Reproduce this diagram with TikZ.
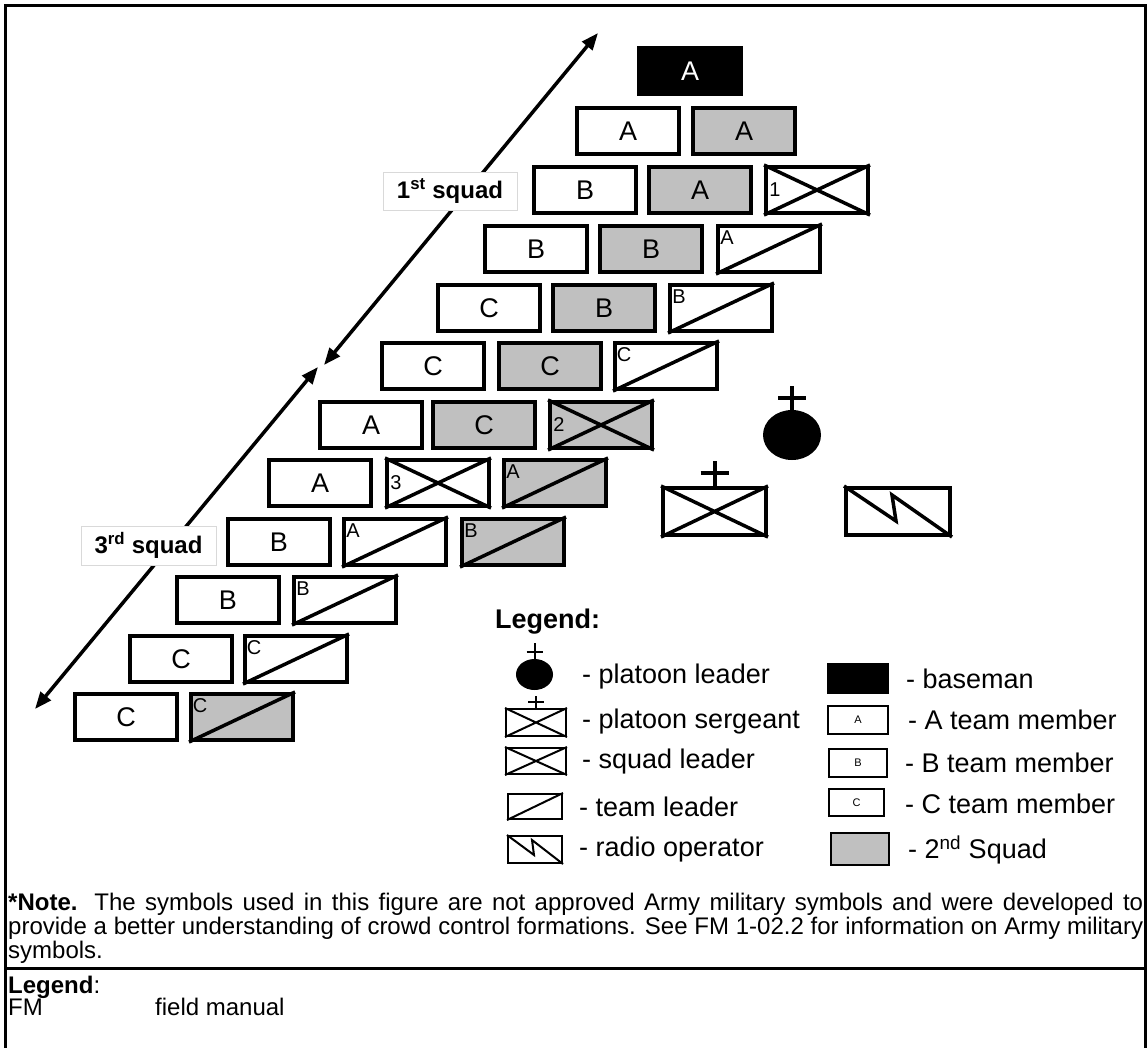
\documentclass[tikz,border=0pt]{standalone}
\usepackage{fontspec}
\setmainfont{Liberation Sans}
\usetikzlibrary{arrows.meta,shapes.geometric}
\definecolor{sqgray}{RGB}{192,192,192}

% one soldier position in the formation (outer top-left corner given)
\newcommand{\member}[5]{%
  \node[unitbox,#4] (#1) at (#2+53,#3+25) {#5};}
% squad leader: box with an X and the squad number
\newcommand{\sqlead}[5]{%
  \node[unitbox,fill=#4] (#1) at (#2+53,#3+25) {};
  \draw[diag] (#1.south west) -- (#1.north east) (#1.north west) -- (#1.south east);
  \node[tag] (#1-n) at ([shift={(11,25)}]#1.north west) {#5};}
% team leader: box with one diagonal and the team letter
\newcommand{\tmlead}[5]{%
  \node[unitbox,fill=#4] (#1) at (#2+53,#3+25) {};
  \draw[diag] (#1.south west) -- (#1.north east);
  \node[tag] (#1-n) at ([shift={(11,14)}]#1.north west) {#5};}

\tikzset{
  unitbox/.style={draw, line width=4pt, minimum width=102pt, minimum height=46pt,
    inner sep=0pt, fill=white, font=\fontsize{27}{30}\selectfont},
  diag/.style={line width=3.5pt},
  tag/.style={inner sep=0pt, font=\fontsize{20}{22}\selectfont},
  squadarrow/.style={line width=3.5pt,
    {Triangle[length=17pt,width=13pt]}-{Triangle[length=17pt,width=13pt]}},
  squadlabel/.style={draw=black!15, line width=0.8pt, fill=white, inner sep=0pt,
    font=\bfseries\fontsize{24}{26}\selectfont},
  legsym/.style={draw, line width=2pt, inner sep=0pt, fill=white},
  legtext/.style={anchor=west, inner sep=0pt, font=\fontsize{27}{30}\selectfont},
  smalltag/.style={font=\fontsize{11}{12}\selectfont},
  bodytext/.style={inner sep=0pt, font=\fontsize{24}{24}\selectfont},
}

\begin{document}
\begin{tikzpicture}[x=1pt,y=-1pt]
\useasboundingbox (0,0) rectangle (1148,1047);
\fill[white] (0,0) rectangle (1148,1047);

% frame and separator
\draw[line width=3pt] (5,1048) -- (5,5) -- (1145,5) -- (1145,1048);
\draw[line width=3pt] (5,968) -- (1145,968);

% squad extent arrows
\coordinate (u1) at (598,33);
\coordinate (u2) at (324,365);
\coordinate (l1) at (318,367);
\coordinate (l2) at (35,709);
\draw[squadarrow] (u2) -- (u1);
\draw[squadarrow] (l2) -- (l1);

% formation, front row first
\member{b1}{637}{46}{fill=black,text=white}{A}
\member{r2a}{575}{106}{}{A}
\member{r2b}{691}{106}{fill=sqgray}{A}
\member{r3a}{532}{165}{}{B}
\member{r3b}{647}{165}{fill=sqgray}{A}
\sqlead{sl1}{764}{165}{white}{1}
\member{r4a}{483}{224}{}{B}
\member{r4b}{598}{224}{fill=sqgray}{B}
\tmlead{tl1a}{716}{224}{white}{A}
\member{r5a}{436}{283}{}{C}
\member{r5b}{551}{283}{fill=sqgray}{B}
\tmlead{tl1b}{668}{283}{white}{B}
\member{r6a}{380}{341}{}{C}
\member{r6b}{497}{341}{fill=sqgray}{C}
\tmlead{tl1c}{613}{341}{white}{C}
\member{r7a}{318}{400}{}{A}
\member{r7b}{431}{400}{fill=sqgray}{C}
\sqlead{sl2}{548}{400}{sqgray}{2}
\member{r8a}{267}{458}{}{A}
\sqlead{sl3}{385}{458}{white}{3}
\tmlead{tl2a}{502}{458}{sqgray}{A}
\member{r9a}{226}{517}{}{B}
\tmlead{tl3a}{342}{517}{white}{A}
\tmlead{tl2b}{460}{517}{sqgray}{B}
\member{r10a}{175}{575}{}{B}
\tmlead{tl3b}{292}{575}{white}{B}
\member{r11a}{128}{634}{}{C}
\tmlead{tl3c}{243}{634}{white}{C}
\member{r12a}{73}{692}{}{C}
\tmlead{tl2c}{189}{692}{sqgray}{C}

% squad labels
\node[squadlabel, minimum width=134pt, minimum height=38pt] (sq1) at (450,191)
  {1\textsuperscript{st} squad};
\node[squadlabel, minimum width=135pt, minimum height=39pt] (sq3) at (148.5,545.5)
  {3\textsuperscript{rd} squad};

% platoon leader
\node[ellipse, fill=black, inner sep=0pt, minimum width=58pt, minimum height=50pt] (pl) at (792,435) {};
\draw[line width=4pt] (pl.north) -- ++(0,-24);
\draw[line width=4pt] ([shift={(-14,-12)}]pl.north) -- ++(28,0);

% platoon sergeant
\node[draw, line width=4pt, inner sep=0pt, minimum width=103pt, minimum height=47pt] (ps) at (714.5,511.5) {};
\draw[diag] (ps.south west) -- (ps.north east) (ps.north west) -- (ps.south east);
\draw[line width=4pt] (ps.north) -- ++(0,-25);
\draw[line width=4pt] ([shift={(-14,-13)}]ps.north) -- ++(28,0);

% radio operator
\node[draw, line width=4pt, inner sep=0pt, minimum width=104pt, minimum height=47pt] (ro) at (898,511.5) {};
\draw[diag, line join=miter] (ro.north west) -- ([shift={(52,35)}]ro.north west)
  -- ([shift={(48,9)}]ro.north west) -- (ro.south east);

% legend
\node[anchor=west, inner sep=0pt, font=\bfseries\fontsize{27}{30}\selectfont] (legt) at (495,622) {Legend:};

\node[ellipse, fill=black, inner sep=0pt, minimum width=37pt, minimum height=31pt] (lpl) at (534.5,674.5) {};
\draw[line width=2pt] (lpl.north) -- ++(0,-16);
\draw[line width=2pt] ([shift={(-8,-7)}]lpl.north) -- ++(16,0);
\node[legtext] (tpl) at (582,677) {- platoon leader};

\node[legsym, minimum width=60pt, minimum height=27pt] (lps) at (536,722.5) {};
\draw[line width=2pt] (lps.south west) -- (lps.north east) (lps.north west) -- (lps.south east);
\draw[line width=2pt] (lps.north) -- ++(0,-12);
\draw[line width=2pt] ([shift={(-8,-6)}]lps.north) -- ++(16,0);
\node[legtext] (tps) at (582,722) {- platoon sergeant};

\node[legsym, minimum width=60pt, minimum height=26pt] (lsl) at (536,761) {};
\draw[line width=2pt] (lsl.south west) -- (lsl.north east) (lsl.north west) -- (lsl.south east);
\node[legtext] (tsl) at (582,762) {- squad leader};

\node[legsym, minimum width=54pt, minimum height=25pt] (ltl) at (535,806.5) {};
\draw[line width=2pt] (ltl.south west) -- (ltl.north east);
\node[legtext] (ttl) at (579,807) {- team leader};

\node[legsym, minimum width=54pt, minimum height=27pt] (lro) at (535,849.5) {};
\draw[line width=2pt] (lro.north west) -- ([shift={(27,20)}]lro.north west)
  -- ([shift={(25,5)}]lro.north west) -- (lro.south east);
\node[legtext] (tro) at (579,850) {- radio operator};

\node[legsym, fill=black, minimum width=60pt, minimum height=29pt] (lbm) at (858,678.5) {};
\node[legtext] (tbm) at (906,679) {- baseman};

\node[legsym, smalltag, minimum width=60pt, minimum height=28pt] (lA) at (858,720) {A};
\node[legtext] (tA) at (908,720) {- A team member};

\node[legsym, smalltag, minimum width=58pt, minimum height=28pt] (lB) at (858,763) {B};
\node[legtext] (tB) at (905,763) {- B team member};

\node[legsym, smalltag, minimum width=55pt, minimum height=27pt] (lC) at (856.5,802.5) {C};
\node[legtext] (tC) at (905,804) {- C team member};

\node[legsym, fill=sqgray, minimum width=58pt, minimum height=32pt] (l2) at (860,849) {};
\node[legtext] (t2) at (908,850) {- 2\textsuperscript{nd} Squad};

% note
\node[bodytext, anchor=north west, text width=1135pt, align=justify] (note) at (8,893)
  {\textbf{*Note.} The symbols used in this figure are not approved Army military symbols and were developed to\linebreak
   provide a better understanding of crowd control formations. See FM 1-02.2 for information on Army military\linebreak
   symbols.};

% acronym legend
\node[bodytext, anchor=base west] (acl) at (8,993) {\textbf{Legend}:};
\node[bodytext, anchor=base west] (acfm) at (8,1015) {FM};
\node[bodytext, anchor=base west] (acfmt) at (155,1015) {field manual};
\end{tikzpicture}
\end{document}
